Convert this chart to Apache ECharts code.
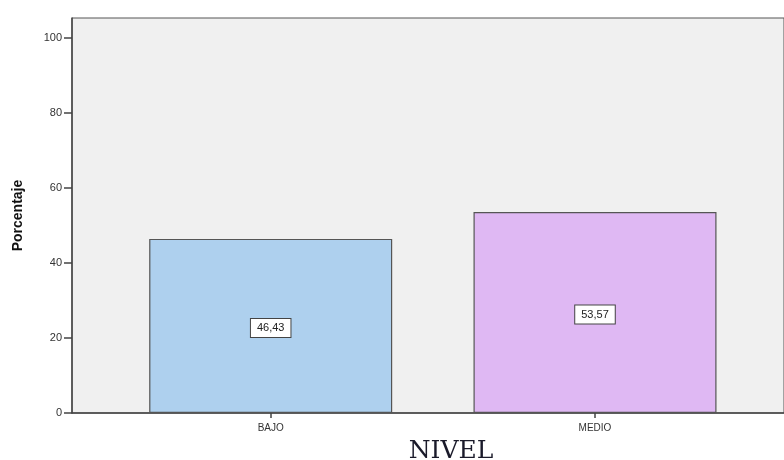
<!DOCTYPE html>
<html>
<head>
<meta charset="utf-8">
<script src="https://cdn.jsdelivr.net/npm/echarts@6/dist/echarts.min.js"></script>
<style>
  html, body { margin: 0; padding: 0; background: #ffffff; }
  #chart { width: 784px; height: 460px; }
</style>
</head>
<body>
<div id="chart"></div>
<script>
// Nivel alcanzado (porcentaje)
const categories = ['BAJO', 'MEDIO'];
const percentages = [46.43, 53.57];
const barColors = ['#aed0ee', '#dfb8f3'];
const yTicks = [0, 20, 40, 60, 80, 100];

// categories sit at x = 0, 1 on a numeric axis so the plot can keep
// SPSS-style padding on the left and run past the right edge
const positions = categories.map((_, i) => i);

const chart = echarts.init(document.getElementById('chart'));
chart.setOption({
  animation: false,
  backgroundColor: '#ffffff',
  title: {
    text: 'NIVEL',
    left: 446,
    top: 434,
    textAlign: 'center',
    textStyle: {
      fontFamily: 'DejaVu Serif, Liberation Serif, serif',
      fontSize: 25,
      fontWeight: 'normal',
      color: '#1a1a2a'
    }
  },
  grid: {
    left: 72,
    right: 0,
    top: 18,
    bottom: 47,
    show: true,
    backgroundColor: '#f0f0f0',
    borderColor: '#555555',
    borderWidth: 1
  },
  xAxis: {
    type: 'value',
    min: -0.6127,
    max: 1.5828,
    splitLine: { show: false },
    axisLine: { show: true, onZero: false, lineStyle: { color: '#444444', width: 1.5 } },
    axisTick: {
      show: true,
      customValues: positions,
      length: 5,
      lineStyle: { color: '#444444', width: 1.5 }
    },
    axisLabel: {
      customValues: positions,
      formatter: v => categories[Math.round(v)] || '',
      fontFamily: 'Liberation Sans, Arial, sans-serif',
      fontSize: 10,
      color: '#333333',
      margin: 10
    }
  },
  yAxis: {
    type: 'value',
    min: 0,
    max: 105.33,
    name: 'Porcentaje',
    nameLocation: 'middle',
    nameGap: 47,
    nameRotate: 90,
    nameTextStyle: {
      fontFamily: 'Liberation Sans, Arial, sans-serif',
      fontSize: 14,
      fontWeight: 'bold',
      color: '#111111'
    },
    splitLine: { show: false },
    axisLine: { show: true, onZero: false, lineStyle: { color: '#444444', width: 1.5 } },
    axisTick: {
      show: true,
      customValues: yTicks,
      length: 8,
      lineStyle: { color: '#444444', width: 1.5 }
    },
    axisLabel: {
      customValues: yTicks,
      fontFamily: 'Liberation Sans, Arial, sans-serif',
      fontSize: 11,
      color: '#333333',
      margin: 10
    }
  },
  series: [{
    type: 'bar',
    barWidth: 243,
    data: positions.map((p, i) => ({
      value: [p, percentages[i]],
      itemStyle: { color: barColors[i] }
    })),
    itemStyle: { borderColor: '#555555', borderWidth: 1.2 },
    label: {
      show: true,
      position: 'inside',
      offset: [0, 2],
      formatter: p => p.value[1].toFixed(2).replace('.', ','),
      fontFamily: 'Liberation Sans, Arial, sans-serif',
      fontSize: 11,
      color: '#222222',
      backgroundColor: '#ffffff',
      borderColor: '#444444',
      borderWidth: 1,
      padding: [4, 6, 3, 6]
    }
  }]
});
</script>
</body>
</html>
